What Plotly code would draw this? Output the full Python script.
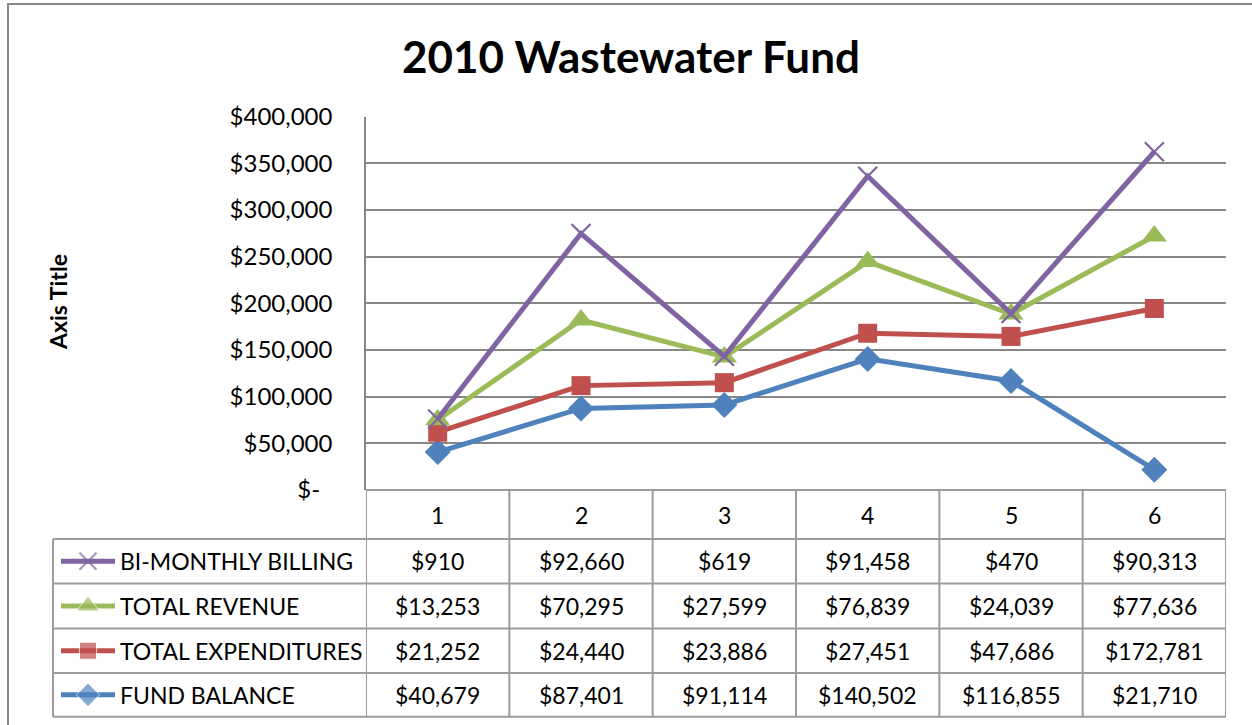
import plotly.graph_objects as go

W, H = 1252, 725

categories = ["1", "2", "3", "4", "5", "6"]
fund_balance = [40679, 87401, 91114, 140502, 116855, 21710]
total_expenditures = [21252, 24440, 23886, 27451, 47686, 172781]
total_revenue = [13253, 70295, 27599, 76839, 24039, 77636]
bimonthly_billing = [910, 92660, 619, 91458, 470, 90313]

y_tickvals = [0, 50000, 100000, 150000, 200000, 250000, 300000, 350000, 400000]
y_ticktext = ["$-\u00a0\u00a0", "$50,000", "$100,000", "$150,000", "$200,000",
              "$250,000", "$300,000", "$350,000", "$400,000"]

# series in drawing/stacking order (bottom first)
series = [
    ("FUND BALANCE", fund_balance, "#4F81BD", "diamond", 20),
    ("TOTAL EXPENDITURES", total_expenditures, "#C0504D", "square", 19),
    ("TOTAL REVENUE", total_revenue, "#9BBB59", "triangle-up", 22),
    ("BI-MONTHLY BILLING", bimonthly_billing, "#8064A2", "x-thin", 19),
]

FONT = "Lato, 'Open Sans', sans-serif"

def px(x):
    return x / W

def py(y):
    return 1 - y / H

# plot area in pixels
PL, PR, PT, PB = 366, 1226, 116.7, 490

fig = go.Figure()

xs = [i + 1 for i in range(len(categories))]
for name, vals, color, sym, size in series:
    mk = dict(symbol=sym, size=size, color=color)
    if sym == "x-thin":
        mk["line"] = dict(color=color, width=2.2)
    fig.add_trace(go.Scatter(
        x=xs, y=vals, name=name, mode="lines+markers", stackgroup="one",
        fill="none", line=dict(color=color, width=5), marker=mk,
        showlegend=False, xaxis="x", yaxis="y", cliponaxis=False,
    ))

# table geometry (pixels)
row_edges = [539, 583.5, 628.5, 673, 716.7]
header_top, header_bot = 490, 539
LEG_L = 53
line_col = "#9C9C9C"

shapes = []
shapes.append(dict(type="rect", xref="paper", yref="paper", x0=px(8), x1=1.02,
                   y0=-0.02, y1=py(4), line=dict(color="#878787", width=2), layer="below"))
for yy in [header_top] + row_edges:
    shapes.append(dict(type="line", xref="paper", yref="paper", x0=px(PL), x1=px(PR),
                       y0=py(yy), y1=py(yy), line=dict(color=line_col, width=2)))
for yy in row_edges:
    shapes.append(dict(type="line", xref="paper", yref="paper", x0=px(LEG_L), x1=px(PL),
                       y0=py(yy), y1=py(yy), line=dict(color=line_col, width=2)))
shapes.append(dict(type="line", xref="paper", yref="paper", x0=px(LEG_L), x1=px(LEG_L),
                   y0=py(row_edges[0]), y1=py(row_edges[-1]), line=dict(color=line_col, width=2)))
for k in range(len(categories) + 1):
    xv = k + 0.5
    shapes.append(dict(type="line", xref="x", yref="paper", x0=xv, x1=xv,
                       y0=py(header_top), y1=py(row_edges[-1]), line=dict(color=line_col, width=2)))

annotations = []
annotations.append(dict(text="<b>2010 Wastewater Fund</b>", xref="paper", yref="paper",
                        x=px(631), y=py(56), xanchor="center", yanchor="middle", showarrow=False,
                        font=dict(family=FONT, size=44, color="#000000")))
annotations.append(dict(text="<b>Axis Title</b>", xref="paper", yref="paper",
                        x=px(58), y=py(302), xanchor="center", yanchor="middle",
                        showarrow=False, textangle=-90,
                        font=dict(family=FONT, size=23, color="#000000")))
for i, c in enumerate(categories):
    annotations.append(dict(text=c, xref="x", yref="paper", x=i + 1,
                            y=py((header_top + header_bot) / 2), xanchor="center",
                            yanchor="middle", showarrow=False,
                            font=dict(family=FONT, size=23, color="#000000")))

table_rows = list(reversed(series))  # billing on top
for r, (name, vals, color, sym, size) in enumerate(table_rows):
    yc = (row_edges[r] + row_edges[r + 1]) / 2
    annotations.append(dict(text=name, xref="paper", yref="paper", x=px(118), y=py(yc),
                            xanchor="left", yanchor="middle", showarrow=False,
                            font=dict(family=FONT, size=23, color="#000000")))
    for i, v in enumerate(vals):
        annotations.append(dict(text=f"${v:,}", xref="x", yref="paper", x=i + 1, y=py(yc),
                                xanchor="center", yanchor="middle", showarrow=False,
                                font=dict(family=FONT, size=23, color="#000000")))
    mk = dict(symbol=sym, size=[0, size * 0.9, 0], color=color)
    if sym == "x-thin":
        mk["line"] = dict(color=color, width=2)
    fig.add_trace(go.Scatter(x=[61, 88, 115], y=[yc, yc, yc], mode="lines+markers",
                             line=dict(color=color, width=5), marker=mk,
                             showlegend=False, xaxis="x2", yaxis="y2", hoverinfo="skip"))

fig.update_layout(
    width=W, height=H, autosize=False,
    margin=dict(l=0, r=0, t=0, b=0, pad=0, autoexpand=False),
    paper_bgcolor="white", plot_bgcolor="rgba(0,0,0,0)",
    showlegend=False,
    xaxis=dict(domain=[px(PL), px(PR)], range=[0.5, 6.5], showgrid=False, zeroline=False,
               showticklabels=False, ticks="", showline=False, anchor="y", automargin=False),
    yaxis=dict(domain=[py(PB), py(PT)], range=[0, 400000], tickvals=y_tickvals,
               ticktext=y_ticktext, showgrid=True, gridcolor="#878787", gridwidth=1.5,
               zeroline=False, showline=True, linecolor="#878787", linewidth=1.5,
               ticks="", ticklabelstandoff=27, anchor="x", automargin=False,
               tickfont=dict(family=FONT, size=24, color="#000000")),
    xaxis2=dict(domain=[0, 1], range=[0, W], visible=False, anchor="y2", automargin=False),
    yaxis2=dict(domain=[0, 1], range=[H, 0], visible=False, anchor="x2", automargin=False),
    shapes=shapes, annotations=annotations,
)

fig.write_html("out.html", config={"displayModeBar": False},
               post_script="document.body.style.margin='0';document.body.style.overflow='hidden';")
